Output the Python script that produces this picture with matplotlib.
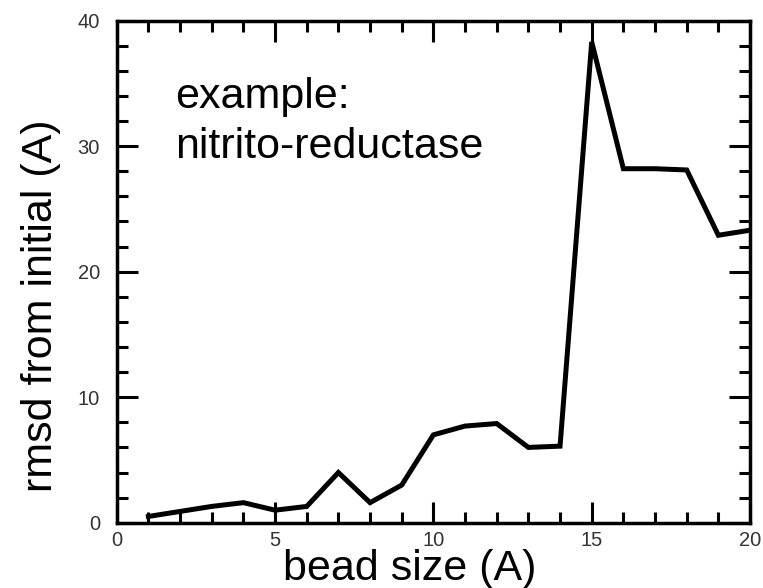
import numpy as np
import matplotlib
matplotlib.use("Agg")
import matplotlib.pyplot as plt
from matplotlib.ticker import MultipleLocator

plt.rcParams['font.family'] = ['Liberation Sans', 'DejaVu Sans']

# bead size vs rmsd
bead_size = [1, 2, 3, 4, 5, 6, 7, 8, 9, 10, 11, 12, 13, 14, 15, 16, 17, 18, 19, 20]
rmsd = [0.5, 0.9, 1.3, 1.6, 1.0, 1.3, 4.0, 1.6, 3.0, 7.0, 7.7, 7.9, 6.0, 6.1,
        38.3, 28.2, 28.2, 28.1, 22.9, 23.3]

fig = plt.figure(figsize=(7.63, 5.88), dpi=100)
ax = fig.add_axes([0.153, 0.111, 0.830, 0.854])

ax.plot(bead_size, rmsd, color='black', lw=3.6, solid_joinstyle='miter')

ax.set_xlim(0, 20)
ax.set_ylim(0, 40)
ax.xaxis.set_major_locator(MultipleLocator(5))
ax.xaxis.set_minor_locator(MultipleLocator(1))
ax.yaxis.set_major_locator(MultipleLocator(10))
ax.yaxis.set_minor_locator(MultipleLocator(2))
ax.tick_params(which='both', direction='in', top=True, right=True, width=2.2,
               labelsize=14.5, labelcolor='#333333')
ax.tick_params(axis='x', pad=6)
ax.tick_params(axis='y', pad=12)
ax.tick_params(which='major', length=15)
ax.tick_params(which='minor', length=8)
for s in ax.spines.values():
    s.set_linewidth(2.5)

ax.set_xlabel('bead size (A)', fontsize=31)
ax.set_ylabel('rmsd from initial (A)', fontsize=31)
ax.xaxis.set_label_coords(0.463, -0.052)
ax.yaxis.set_label_coords(-0.088, 0.432)

ax.text(1.85, 33.0, 'example:', fontsize=31, va='baseline', ha='left')
ax.text(1.85, 29.06, 'nitrito-reductase', fontsize=31, va='baseline', ha='left')

fig.savefig('out.png', dpi=100)
